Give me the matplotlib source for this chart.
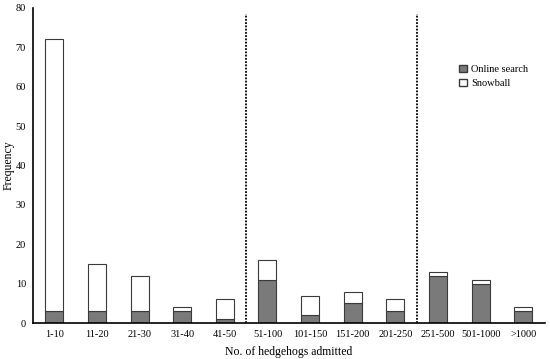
import matplotlib
matplotlib.use("Agg")
import matplotlib.pyplot as plt
from matplotlib.patches import Patch
import numpy as np

categories = ["1-10", "11-20", "21-30", "31-40", "41-50", "51-100", "101-150",
              "151-200", "201-250", "251-500", "501-1000", ">1000"]
online = [3, 3, 3, 3, 1, 11, 2, 5, 3, 12, 10, 3]
snowball = [69, 12, 9, 1, 5, 5, 5, 3, 3, 1, 1, 1]
divider_after = [4, 8]

plt.rcParams['font.family'] = ['Liberation Serif', 'DejaVu Serif']
fig = plt.figure(figsize=(5.5, 3.59), dpi=100)
ax = fig.add_axes([0.06, 0.1, 0.93, 0.878])

x = np.arange(len(categories))
w = 0.42
ax.bar(x, online, w, color='#7a7a7a', edgecolor='#3a3a3a', linewidth=0.8, label='Online search')
ax.bar(x, snowball, w, bottom=online, color='white', edgecolor='#3a3a3a', linewidth=0.8, label='Snowball')

for d in divider_after:
    ax.axvline(d + 0.5, ymin=0, ymax=0.98, color='black', linestyle=(0, (1, 0.8)), linewidth=1.3)

ax.set_xlim(-0.5, len(categories) - 0.5)
ax.set_ylim(0, 80)
ax.set_yticks(range(0, 81, 10))
ax.set_xticks(x)
ax.set_xticklabels(categories)
ax.tick_params(axis='y', length=0, labelsize=7.5, pad=5)
ax.tick_params(axis='x', length=0, labelsize=7.5, pad=5)
ax.spines['top'].set_visible(False)
ax.spines['right'].set_visible(False)
ax.spines['left'].set_linewidth(1.2)
ax.spines['bottom'].set_linewidth(1.2)
ax.set_ylabel('Frequency', fontsize=8.5)
ax.yaxis.set_label_coords(-0.036, 0.5)
ax.set_xlabel('No. of hedgehogs admitted', fontsize=8.5, labelpad=5)

handles = [Patch(facecolor='#7a7a7a', edgecolor='#3a3a3a', label='Online search'),
           Patch(facecolor='white', edgecolor='#3a3a3a', label='Snowball')]
ax.legend(handles=handles, loc='upper left', bbox_to_anchor=(0.815, 0.85), frameon=False,
          fontsize=7.5, handlelength=0.7, handleheight=0.7, handletextpad=0.45, labelspacing=0.5)

fig.savefig('out.png', dpi=100)
